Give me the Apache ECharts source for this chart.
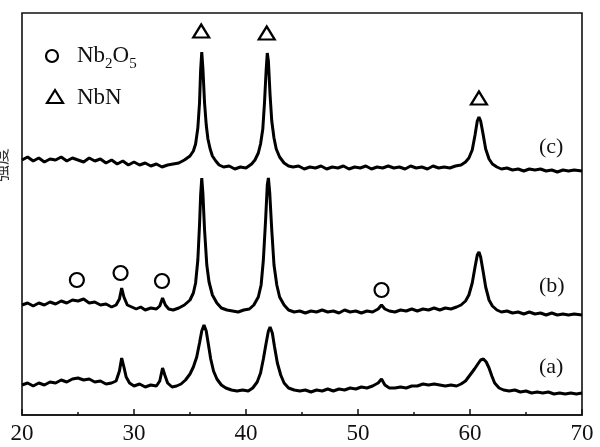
<!DOCTYPE html>
<html>
<head>
<meta charset="utf-8">
<script src="https://cdn.jsdelivr.net/npm/echarts@6/dist/echarts.min.js"></script>
<style>
html,body{margin:0;padding:0;background:#fff;}
#c{width:600px;height:447px;}
</style>
</head>
<body>
<div id="c"></div>
<script>
// X-axis tick labels (2θ, degrees)
const xTicks = [20, 30, 40, 50, 60, 70];

// Trace (c): [2θ, intensity]
const seriesC = [
[20,255],[20.5,258],[21,254],[21.5,257],[22,253],[22.5,256],[23,255],[23.5,258],[24,254],[24.5,257],
[25,255],[25.5,253],[26,257],[26.5,254],[27,256],[27.5,252],[28,255],[28.5,251],[29,254],[29.5,250],
[30,253],[30.5,250],[31,252],[31.5,249],[32,251],[32.5,248],[33,250],[33.5,251],[34,252],[34.5,255],
[35,259],[35.3,264],[35.5,271],[35.7,287],[35.85,312],[35.95,345],[36.05,363],[36.15,347],[36.3,312],
[36.45,290],[36.6,276],[36.8,266],[37,259],[37.3,254],[37.6,250],[38,248],[38.5,249],[39,246],
[39.5,248],[40,247],[40.5,251],[40.8,255],[41.1,262],[41.3,271],[41.5,286],[41.65,312],[41.8,345],
[41.9,362],[42.0,354],[42.15,320],[42.3,294],[42.5,277],[42.7,266],[43,258],[43.4,252],[43.8,249],
[44.2,248],[44.7,249],[45.2,246],[45.7,248],[46.2,247],[46.7,249],[47.2,246],[47.7,248],[48.2,247],
[48.7,249],[49.2,246],[49.7,248],[50.2,247],[50.7,249],[51.2,246],[51.7,248],[52.2,247],[52.7,249],
[53.2,247],[53.7,248],[54.2,246],[54.7,249],[55.2,247],[55.7,248],[56.2,246],[56.7,249],[57.2,247],
[57.7,248],[58.2,247],[58.7,249],[59.2,250],[59.6,253],[59.9,257],[60.2,265],[60.45,280],[60.65,294],
[60.8,298],[60.95,294],[61.15,282],[61.4,266],[61.7,256],[62,251],[62.4,248],[62.8,246],[63.3,247],
[63.8,245],[64.3,246],[64.8,244],[65.3,246],[65.8,245],[66.3,246],[66.8,244],[67.3,245],[67.8,243],
[68.3,245],[68.8,244],[69.3,245],[70,244]
];

// Trace (b)
const seriesB = [
[20,110],[20.5,112],[21,109],[21.5,112],[22,110],[22.5,113],[23,111],[23.5,114],[24,112],[24.5,115],
[25,114],[25.5,116],[26,112],[26.5,113],[27,110],[27.5,111],[28,108],[28.4,110],[28.7,116],[28.9,127],
[29.1,118],[29.4,110],[29.8,108],[30.2,106],[30.6,108],[31,105],[31.5,107],[32,106],[32.3,109],
[32.55,117],[32.8,110],[33.1,106],[33.5,105],[34,107],[34.5,110],[35,115],[35.3,122],[35.5,132],
[35.7,155],[35.85,190],[35.95,220],[36.05,237],[36.15,222],[36.3,185],[36.5,150],[36.7,133],
[37,120],[37.4,112],[37.8,107],[38.3,105],[38.8,104],[39.3,103],[39.8,105],[40.3,106],[40.7,110],
[41.1,118],[41.35,130],[41.55,155],[41.75,195],[41.9,230],[42.0,237],[42.12,222],[42.3,185],
[42.5,150],[42.75,130],[43,118],[43.4,110],[43.8,105],[44.3,103],[44.8,104],[45.3,102],[45.8,104],
[46.3,103],[46.8,105],[47.3,103],[47.8,104],[48.3,102],[48.8,105],[49.3,103],[49.8,104],[50.3,102],
[50.8,104],[51.3,103],[51.8,106],[52.1,110],[52.4,106],[52.8,104],[53.3,103],[53.8,105],[54.3,104],
[54.8,106],[55.3,104],[55.8,106],[56.3,105],[56.8,107],[57.3,105],[57.8,107],[58.3,106],[58.8,108],
[59.2,110],[59.6,114],[59.9,120],[60.2,132],[60.45,148],[60.65,160],[60.8,163],[60.95,158],
[61.15,145],[61.4,128],[61.7,115],[62,109],[62.4,105],[62.8,103],[63.3,104],[63.8,102],[64.3,103],
[64.8,101],[65.3,103],[65.8,101],[66.3,102],[66.8,100],[67.3,102],[67.8,100],[68.3,101],[68.8,100],
[69.3,101],[70,100]
];

// Trace (a)
const seriesA = [
[20,30],[20.5,32],[21,29],[21.5,32],[22,30],[22.5,33],[23,32],[23.5,35],[24,33],[24.5,36],
[25,37],[25.5,35],[26,36],[26.5,33],[27,34],[27.5,31],[28,32],[28.4,34],[28.7,44],[28.9,57],
[29.1,48],[29.3,38],[29.6,32],[30,29],[30.5,31],[31,28],[31.5,30],[32,29],[32.3,34],[32.55,47],
[32.75,40],[33,32],[33.4,28],[33.8,29],[34.2,31],[34.6,35],[35,41],[35.3,48],[35.6,58],[35.85,72],
[36.05,84],[36.25,90],[36.45,84],[36.65,70],[36.85,56],[37.1,44],[37.4,36],[37.8,30],[38.2,27],
[38.7,25],[39.2,24],[39.7,25],[40.2,24],[40.6,27],[41,33],[41.3,42],[41.55,56],[41.8,72],
[42.0,84],[42.15,88],[42.35,82],[42.55,68],[42.8,52],[43.1,40],[43.4,32],[43.8,27],[44.3,25],
[44.8,24],[45.3,25],[45.8,23],[46.3,25],[46.8,24],[47.3,26],[47.8,24],[48.3,26],[48.8,25],
[49.3,27],[49.8,26],[50.3,28],[50.8,27],[51.3,29],[51.8,32],[52.1,36],[52.4,30],[52.8,27],
[53.3,27],[53.8,28],[54.3,27],[54.8,29],[55.3,29],[55.8,31],[56.3,30],[56.8,31],[57.3,30],
[57.8,29],[58.3,30],[58.8,29],[59.2,31],[59.6,34],[60,40],[60.4,46],[60.7,51],[60.95,55],
[61.2,56],[61.45,53],[61.7,47],[61.95,39],[62.2,32],[62.6,27],[63,25],[63.5,24],[64,25],
[64.5,23],[65,24],[65.5,22],[66,23],[66.5,22],[67,23],[67.5,21],[68,22],[68.5,21],[69,22],
[69.5,21],[70,22]
];

// Phase markers: [2θ, height]
const nbnMarks = [[36.0,384],[41.85,382],[60.8,317]];
const nb2o5Marks = [[24.9,135],[28.8,142],[32.5,134],[52.1,125]];

// Trace labels
const traceLabels = ['(a)', '(b)', '(c)'];

const serif = '"Liberation Serif", "DejaVu Serif", serif';
const chart = echarts.init(document.getElementById('c'));

const lineStyle = {color:'#000', width:3};
const mkLine = (d) => ({
  type:'line', data:d, showSymbol:false, symbol:'none', smooth:false,
  lineStyle:lineStyle, silent:true, animation:false
});

chart.setOption({
  animation:false,
  backgroundColor:'#fff',
  grid:{left:22, right:18, top:13, bottom:32, show:true, borderColor:'#111', borderWidth:1.6, backgroundColor:'transparent'},
  xAxis:{
    type:'value', min:20, max:70, interval:10,
    axisLine:{show:true, lineStyle:{color:'#111', width:1.6}},
    axisTick:{show:true, inside:true, length:6, lineStyle:{color:'#111', width:1.5}},
    minorTick:{show:true, splitNumber:2, length:3, lineStyle:{color:'#111', width:1.5}},
    axisLabel:{show:true, color:'#111', fontFamily:serif, fontSize:23, margin:7,
      formatter:(v)=> xTicks.includes(v) ? String(v) : ''},
    splitLine:{show:false}
  },
  yAxis:{
    type:'value', min:0, max:402,
    axisLine:{show:false}, axisTick:{show:false}, axisLabel:{show:false}, splitLine:{show:false}
  },
  series:[
    mkLine(seriesA), mkLine(seriesB), mkLine(seriesC),
    {type:'scatter', data:nbnMarks, symbol:'triangle', symbolSize:[16,13],
     itemStyle:{color:'#fff', borderColor:'#000', borderWidth:2.2, opacity:1}, silent:true, z:5},
    {type:'scatter', data:nb2o5Marks, symbol:'circle', symbolSize:14,
     itemStyle:{color:'#fff', borderColor:'#000', borderWidth:2.2, opacity:1}, silent:true, z:5}
  ],
  graphic:[
    {type:'circle', shape:{cx:52, cy:56, r:6}, style:{fill:'#fff', stroke:'#000', lineWidth:2.2}},
    {type:'text', left:77, top:44, style:{
      text:'{n|Nb}{s|2}{n|O}{s|5}',
      rich:{
        n:{fontFamily:serif, fontSize:23, fill:'#111', verticalAlign:'bottom', lineHeight:26},
        s:{fontFamily:serif, fontSize:15, fill:'#111', verticalAlign:'bottom', lineHeight:26, padding:[0,0,-5,0]}
      }}},
    {type:'polygon', shape:{points:[[55,90],[47,103],[63,103]]}, style:{fill:'#fff', stroke:'#000', lineWidth:2.2}},
    {type:'text', left:77, top:86, style:{text:'NbN', fontFamily:serif, fontSize:23, fill:'#111'}},
    {type:'text', left:539, top:136, style:{text:traceLabels[2], fontFamily:serif, fontSize:22, fill:'#111'}},
    {type:'text', left:539, top:275, style:{text:traceLabels[1], fontFamily:serif, fontSize:22, fill:'#111'}},
    {type:'text', left:539, top:356, style:{text:traceLabels[0], fontFamily:serif, fontSize:22, fill:'#111'}},
    {type:'text', x:-8, y:182, rotation:Math.PI/2, style:{text:'强度', fontFamily:'"Noto Sans CJK SC"', fontSize:17, fill:'#333'}}
  ]
});
</script>
</body>
</html>
